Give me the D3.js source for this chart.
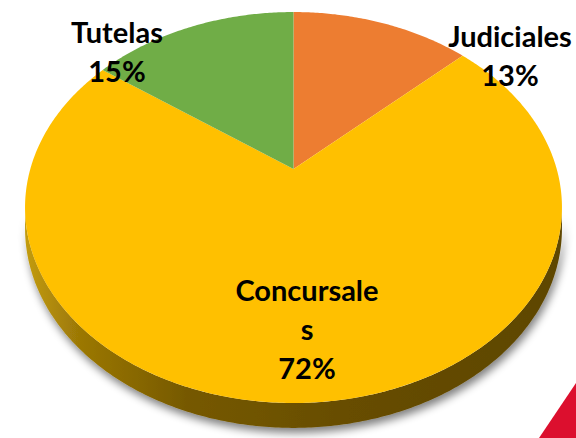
<!DOCTYPE html>
<html>
<head>
<meta charset="utf-8">
<script src="https://cdn.jsdelivr.net/npm/d3@7"></script>
<style>
  html, body { margin: 0; padding: 0; background: #fff; }
  svg { display: block; }
</style>
</head>
<body>
<svg id="chart" width="576" height="438"></svg>
<script>
const categories = ['Judiciales', 'Concursales', 'Tutelas']
const values = [13, 72, 15]
const colors = ['#ED7D31', '#FFC000', '#70AD47']

function drawChart() {
  const svg = d3.select('#chart')
  svg.selectAll('*').remove()

  // perspective projection of the pie disc (tilted 3D look)
  const cx = 293.5, cy = 169
  const A = 263.2, B = 187.9, k = 0.197
  const depth = 20

  function proj(theta, drop = 0) {
    const u = Math.sin(theta), v = -Math.cos(theta)
    const w = 1 - k * v
    return [cx + A * u / w, cy + (B * v + drop) / w]
  }

  function rim(a0, a1, drop = 0) {
    const n = Math.max(2, Math.ceil((a1 - a0) / 0.01))
    return d3.range(n + 1).map(i => proj(a0 + (a1 - a0) * i / n, drop))
  }

  const pie = d3.pie().sort(null).value(d => d)
  const arcs = pie(values)

  const defs = svg.append('defs')

  const shadow = defs.append('filter')
    .attr('id', 'shadow')
    .attr('x', '-10%').attr('y', '-10%')
    .attr('width', '120%').attr('height', '130%')
  shadow.append('feGaussianBlur').attr('in', 'SourceAlpha').attr('stdDeviation', 4.5)
  shadow.append('feOffset').attr('dx', 2).attr('dy', 5).attr('result', 'blur')
  shadow.append('feComponentTransfer').append('feFuncA').attr('type', 'linear').attr('slope', 0.5)
  const merge = shadow.append('feMerge')
  merge.append('feMergeNode')
  merge.append('feMergeNode').attr('in', 'SourceGraphic')

  const sideGrad = defs.append('linearGradient')
    .attr('id', 'side')
    .attr('x1', 0).attr('x2', 1).attr('y1', 0).attr('y2', 0)
  const stops = [[0, '#C39C0C'], [0.1, '#9C7806'], [0.3, '#765900'], [0.6, '#674D00'], [1, '#5E4600']]
  stops.forEach(s => sideGrad.append('stop').attr('offset', s[0]).attr('stop-color', s[1]))

  // front side wall: between the left and right silhouette points
  const fa0 = Math.acos(-k), fa1 = 2 * Math.PI - Math.acos(-k)
  const line = d3.line()

  const sides = svg.append('g').attr('filter', 'url(#shadow)')
  arcs.forEach((a, i) => {
    const s0 = Math.max(a.startAngle, fa0), s1 = Math.min(a.endAngle, fa1)
    if (s1 <= s0) return
    const top = rim(s0, s1)
    const bottom = rim(s0, s1, depth).reverse()
    sides.append('path')
      .attr('d', line(top.concat(bottom)) + 'Z')
      .attr('fill', 'url(#side)')
  })

  // top face
  const face = svg.append('g')
  face.selectAll('path')
    .data(arcs)
    .join('path')
    .attr('d', a => line([[cx, cy]].concat(rim(a.startAngle, a.endAngle))) + 'Z')
    .attr('fill', (a, i) => colors[i])

  // data labels
  const total = d3.sum(values)
  const fmt = d3.format('.0%')
  const labelPos = {
    Judiciales: [510, 47],
    Concursales: [307, 301],
    Tutelas: [117, 43]
  }
  const lineGap = 39
  const maxWidth = 150

  const labels = svg.append('g')
    .attr('font-family', 'Lato, "Open Sans", sans-serif')
    .attr('font-weight', 'bold')
    .attr('font-size', 29)
    .attr('fill', '#000')
    .attr('text-anchor', 'middle')

  categories.forEach((name, i) => {
    const [x, y] = labelPos[name]
    const t = labels.append('text').attr('x', x).attr('y', y)
    // wrap the category name by characters, like the original does
    const lines = []
    let cur = ''
    const probe = t.append('tspan')
    for (const ch of name) {
      probe.text(cur + ch)
      if (cur && probe.node().getComputedTextLength() > maxWidth) {
        lines.push(cur)
        cur = ch
      } else {
        cur += ch
      }
    }
    lines.push(cur)
    probe.remove()
    lines.push(fmt(values[i] / total))
    lines.forEach((l, j) => {
      t.append('tspan').attr('x', x).attr('y', y + j * lineGap).text(l)
    })
  })

  // slide decoration in the corner
  svg.append('polygon')
    .attr('points', '539,438 576,383 576,438')
    .attr('fill', '#DC0F2E')
}

document.addEventListener('DOMContentLoaded', drawChart, false)
</script>
</body>
</html>
